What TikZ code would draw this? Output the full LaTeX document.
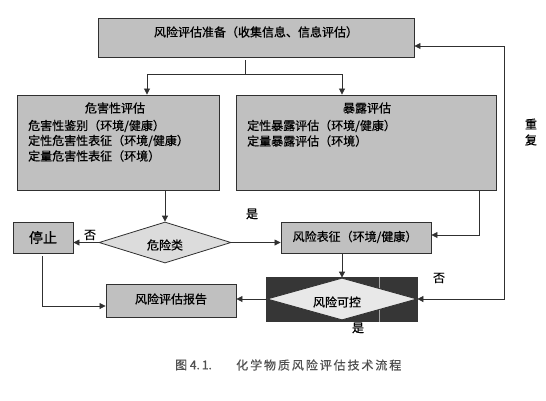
\documentclass[tikz,border=0pt]{standalone}
\usepackage{fontspec}
\setmainfont{Noto Sans CJK SC}[FakeBold=0.6]
\usetikzlibrary{shapes.geometric,arrows.meta}
\definecolor{boxgray}{HTML}{C0C0C0}
\definecolor{diagray}{HTML}{DCDCDC}
\definecolor{diagraylt}{HTML}{E8E8E8}
\definecolor{darkbg}{HTML}{363636}
\definecolor{lncol}{HTML}{303030}
\definecolor{capcol}{HTML}{505050}
\begin{document}
\begin{tikzpicture}[x=1pt,y=-1pt,
  box/.style={draw=lncol, line width=0.9pt, fill=boxgray, inner sep=0pt},
  dia/.style={diamond, draw=lncol, line width=0.8pt, fill=diagray, inner sep=0pt},
  lbl/.style={inner sep=0pt, font=\fontsize{12}{14}\selectfont},
  conn/.style={draw=lncol, line width=0.8pt},
  arr/.style={conn, -{Triangle[length=6pt,width=6pt]}},
  arrboth/.style={conn, {Triangle[length=6pt,width=6pt]}-{Triangle[length=6pt,width=6pt]}},
]
\useasboundingbox[fill=white] (0,0) rectangle (546,400);

% boxes
\node[box, minimum width=316pt, minimum height=39pt] (prep) at (256,37.5) {};
\node[lbl] (prept) at (256,32) {风险评估准备（收集信息、信息评估）};

\node[box, minimum width=202pt, minimum height=95pt] (haz) at (118,142.5) {};
\node[lbl] (hazt) at (115,108) {危害性评估};
\node[lbl, anchor=west] (haz1) at (28,126) {危害性鉴别（环境/健康）};
\node[lbl, anchor=west] (haz2) at (28,141) {定性危害性表征（环境/健康）};
\node[lbl, anchor=west] (haz3) at (28,156) {定量危害性表征（环境）};

\node[box, minimum width=260pt, minimum height=95pt] (exp) at (366,142.5) {};
\node[lbl] (expt) at (367,108) {暴露评估};
\node[lbl, anchor=west] (exp1) at (247,126) {定性暴露评估（环境/健康）};
\node[lbl, anchor=west] (exp2) at (247,141) {定量暴露评估（环境）};

\node[dia, minimum width=132pt, minimum height=41pt] (d1) at (165,242.5) {};
\node[lbl] (d1t) at (165,245) {危险类};

\node[box, minimum width=60pt, minimum height=31pt] (stop) at (43,237.5) {};
\node[lbl, font=\fontsize{14}{16}\selectfont] (stopt) at (43,237.5) {停止};

\node[box, minimum width=150pt, minimum height=31pt] (rc) at (356,238) {};
\node[lbl] (rct) at (355,237) {风险表征（环境/健康）};

\node[fill=darkbg, minimum width=152pt, minimum height=45pt, inner sep=0pt] (shade) at (342,299.5) {};
\draw[draw=gray!70, line width=0.5pt] (shade.north -| 379,0) -- (shade.south -| 379,0);
\node[dia, fill=diagraylt, minimum width=150pt, minimum height=42pt] (d2) at (342,299) {};
\node[lbl] (d2t) at (337,302) {风险可控};

\node[box, minimum width=130pt, minimum height=33pt] (rep) at (171,300.5) {};
\node[lbl] (rept) at (171,299) {风险评估报告};

% connectors
\coordinate (j1) at (245,74);
\coordinate (hl) at (147,74);
\coordinate (hr) at (342,74);
\draw[conn] ([yshift=-3pt]prep.south -| j1) -- (j1);
\draw[arr] (j1) -- (hl) -- (hl |- haz.north);
\draw[arr] (j1) -- (hr) -- (hr |- exp.north);

\draw[arr] (haz.south -| d1.north) -- (d1.north);
\draw[arr] (d1.west) -- (stop.east |- d1.west);
\draw[arr] (d1.east) -- (d1.east -| rc.west);

\coordinate (ej) at (479,235);
\draw[arr] (exp.south -| ej) -- (ej) -- (ej -| rc.east);
\draw[arr] (rc.south -| d2.north) -- (d2.north);
\draw[arr] (d2.west) -- (d2.west -| rep.east);

\coordinate (sj) at (42,306);
\draw[arr] ([yshift=-3pt]stop.south -| sj) -- (sj) -- (sj -| rep.west);

\coordinate (r1) at (504,299);
\coordinate (r2) at (504,46);
\draw[arrboth] (d2.east) -- (r1) -- (r2) -- (r2 -| prep.east);

% labels
\node[lbl] (no1) at (90,235) {否};
\node[lbl] (yes1) at (252,214) {是};
\node[lbl] (no2) at (439,278) {否};
\node[lbl] (yes2) at (358,328) {是};
\node[lbl] (rpt1) at (531,124) {重};
\node[lbl] (rpt2) at (531,140) {复};

% caption
\node[lbl, text=capcol, anchor=west] (cap1) at (175,365) {图 4.\,1.};
\node[lbl, text=capcol, anchor=west, font=\fontsize{12}{14}\selectfont\addfontfeature{LetterSpace=16}] (cap2) at (236,365) {化学物质风险评估技术流程};
\end{tikzpicture}
\end{document}
